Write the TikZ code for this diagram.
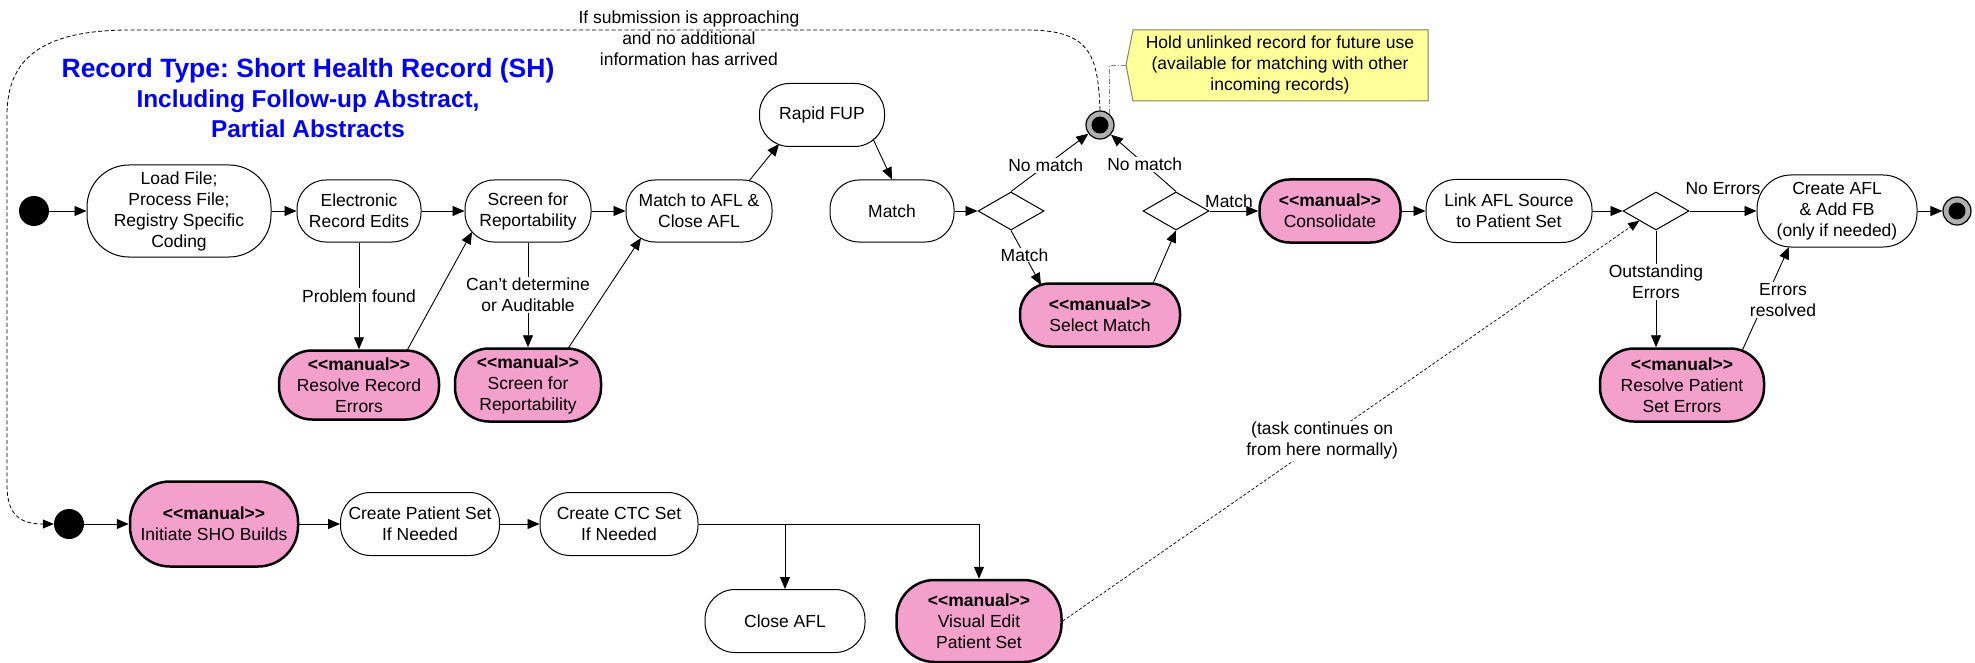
\documentclass[tikz,border=0pt]{standalone}
\usepackage{fontspec}
\newfontfamily\diafont{Liberation Sans}
\usepackage{tikz}
\usetikzlibrary{shapes.geometric,arrows.meta}

\definecolor{manualpink}{RGB}{244,160,204}
\definecolor{noteyellow}{RGB}{255,255,153}
\definecolor{noteborder}{RGB}{130,130,100}
\definecolor{titleblue}{RGB}{0,0,255}
\definecolor{holdgray}{RGB}{176,176,176}
\newcommand{\mantag}{\textbf{<{}<manual>{}>}}
\frenchspacing

\begin{document}
\begin{tikzpicture}[x=1pt,y=-1pt]
 \tikzstyle{every node} = [font=\diafont\fontsize{17.5pt}{21pt}\selectfont];
 \tikzstyle{arrow} = [-{Triangle[length=12pt,width=10pt]},line width=0.9pt];
 \tikzstyle{act} = [rectangle,draw,rounded corners=29pt,line width=1pt,align=center,inner sep=1pt,fill=white];
 \tikzstyle{manual} = [line width=2.5pt,fill=manualpink];
 \tikzstyle{decide} = [diamond,draw,line width=1pt,minimum width=66pt,minimum height=38pt,inner sep=0pt];
 \tikzstyle{initdot} = [circle,fill=black,minimum size=30pt,inner sep=0pt];
 \tikzstyle{enddot} = [circle,draw,line width=1.2pt,fill=holdgray,minimum size=28pt,inner sep=0pt,
   path picture={\fill[black] (path picture bounding box.center) circle (8.5pt);}];
 \tikzstyle{lbl} = [fill=white,inner sep=1pt,align=center];
 \tikzstyle{waitline} = [line width=0.8pt,dash pattern=on 4pt off 2.5pt,-{Triangle[length=11pt,width=9pt]}];
 \tikzstyle{taskline} = [line width=0.7pt,dash pattern=on 3pt off 2pt,-{Triangle[length=11pt,width=9pt]}];
 \tikzstyle{noteline} = [line width=0.8pt,gray,dash pattern=on 5pt off 2pt on 1pt off 2pt];

 \useasboundingbox (0,0) rectangle (1975,663);

 % title
 \node[name=title,text=titleblue,align=center,font=\diafont\bfseries\fontsize{26.5pt}{30pt}\selectfont] at (308,98)
   {Record Type: Short Health Record (SH)\\{\fontsize{24.4pt}{30pt}\selectfont Including Follow-up Abstract,}\\{\fontsize{24.4pt}{30pt}\selectfont Partial Abstracts}};

 % main row
 \node[initdot,name=init] at (34,211) {};
 \node[act,name=load,minimum width=184pt,minimum height=92pt,rounded corners=42pt] at (179,211)
   {Load File;\\Process File;\\Registry Specific\\Coding};
 \node[act,name=elec,minimum width=124pt,minimum height=62pt] at (359,211) {Electronic\\Record Edits};
 \node[act,name=screen,minimum width=126pt,minimum height=62pt] at (528,211) {Screen for\\Reportability};
 \node[act,name=matchafl,minimum width=146pt,minimum height=62pt] at (699,211) {Match to AFL \&\\Close AFL};
 \node[act,name=rapid,minimum width=125pt,minimum height=63pt,rounded corners=30pt] at (822,115) {Rapid FUP};
 \node[act,name=match,minimum width=124pt,minimum height=62pt] at (892,211) {Match};
 \node[decide,name=dec1] at (1011,211) {};
 \node[enddot,name=hold] at (1100,125) {};
 \node[act,manual,name=selmatch,minimum width=160pt,minimum height=63pt,rounded corners=30pt] at (1100,315)
   {\mantag\\Select Match};
 \node[decide,name=dec2] at (1176,211) {};
 \node[act,manual,name=consol,minimum width=141pt,minimum height=63pt,rounded corners=30pt] at (1330,211)
   {\mantag\\Consolidate};
 \node[act,name=link,minimum width=166pt,minimum height=63pt,rounded corners=30pt] at (1509,211) {Link AFL Source\\to Patient Set};
 \node[decide,name=dec3] at (1656,211) {};
 \node[act,name=createafl,minimum width=160pt,minimum height=72pt,rounded corners=34pt] at (1837,211)
   {Create AFL\\\& Add FB\\(only if needed)};
 \node[enddot,name=final] at (1957,211) {};

 % manual fixes
 \node[act,manual,name=resrec,minimum width=160pt,minimum height=69pt,rounded corners=33pt] at (359,385)
   {\mantag\\Resolve Record\\Errors};
 \node[act,manual,name=mscreen,minimum width=146pt,minimum height=73pt,rounded corners=34pt] at (528,385)
   {\mantag\\Screen for\\Reportability};
 \node[act,manual,name=respat,minimum width=164pt,minimum height=73pt,rounded corners=34pt] at (1682,385)
   {\mantag\\Resolve Patient\\Set Errors};

 % SHO row
 \node[initdot,name=init2] at (69,524) {};
 \node[act,manual,name=initsho,minimum width=168pt,minimum height=85pt,rounded corners=40pt] at (214,524)
   {\mantag\\Initiate SHO Builds};
 \node[act,name=cps,minimum width=159pt,minimum height=63pt,rounded corners=30pt] at (420,524) {Create Patient Set\\If Needed};
 \node[act,name=ctc,minimum width=158pt,minimum height=63pt,rounded corners=30pt] at (619,524) {Create CTC Set\\If Needed};
 \node[act,name=closeafl,minimum width=160pt,minimum height=63pt,rounded corners=30pt] at (785,621) {Close AFL};
 \node[act,manual,name=visedit,minimum width=165pt,minimum height=82pt,rounded corners=38pt] at (979,621)
   {\mantag\\Visual Edit\\Patient Set};

 % note
 \draw[fill=noteyellow,draw=noteborder,line width=1pt] (1133,30) -- (1428,30) -- (1428,101) -- (1133,101) -- (1126,65) -- cycle;
 \coordinate (notetip) at (1126,65);
 \node[name=note,align=center] at (1280,65)
   {Hold unlinked record for future use\\(available for matching with other\\incoming records)};
 \draw[noteline] (hold.50) |- (notetip);

 \path (init) edge [arrow] (load);
 \path (load) edge [arrow] (elec);
 \path (elec) edge [arrow] (screen);
 \path (screen) edge [arrow] (matchafl);
 \path ([shift={(50,-30)}]matchafl.center) edge [arrow] ([shift={(-43,29)}]rapid.center);
 \path ([shift={(51,24)}]rapid.center) edge [arrow] (match.north);
 \path (match) edge [arrow] (dec1);
 \path (dec1.north) edge [arrow] node [lbl,pos=0.45] {No match} (hold);
 \path (dec1.south) edge [arrow] node [lbl,pos=0.45] {Match} ([shift={(-59,-30)}]selmatch.center);
 \path ([shift={(53,-31.5)}]selmatch.center) edge [arrow] (dec2.south);
 \path (dec2.north) edge [arrow] node [lbl,pos=0.48] {No match} (hold);
 \path (dec2) edge [arrow] node [above,pos=0.4] {Match} (consol);
 \path (consol) edge [arrow] (link);
 \path (link) edge [arrow] (dec3);
 \path (dec3) edge [arrow] node [above=13pt] {No Errors} (createafl);
 \path (createafl) edge [arrow] (final);

 \path (elec.south) edge [arrow] node [lbl] {Problem found} (resrec.north);
 \path ([shift={(48,-34.5)}]resrec.center) edge [arrow] ([shift={(-56,21)}]screen.center);
 \path (screen.south) edge [arrow] node [lbl] {Can’t determine\\or Auditable} (mscreen.north);
 \path ([shift={(40,-36.5)}]mscreen.center) edge [arrow] ([shift={(-58,27)}]matchafl.center);
 \path (dec3.south) edge [arrow] node [lbl,pos=0.44] {Outstanding\\Errors} (dec3.south |- respat.north);
 \path ([shift={(60,-34)}]respat.center) edge [arrow] node [lbl,pos=0.49,xshift=18pt] {Errors\\resolved} ([shift={(-48,36)}]createafl.center);

 \path (init2) edge [arrow] (initsho);
 \path (initsho) edge [arrow] (cps);
 \path (cps) edge [arrow] (ctc);
 \draw[arrow] (ctc.east) -| (closeafl.north);
 \draw[arrow] (ctc.east) -| (visedit.north);

 \path (visedit.east) edge [taskline] node [lbl,pos=0.45] {(task continues on\\from here normally)} (dec3.south west);

 % wait for more info
 \draw[waitline] (hold.north) .. controls (1098,55) and (1090,31) .. (1030,30)
   -- node [pos=0.379,yshift=-8pt,align=center] {If submission is approaching\\and no additional\\information has arrived} (130,30)
   .. controls (40,30) and (7,60) .. (7,115) -- (7,485) .. controls (7,515) and (20,524) .. (init2.west);
\end{tikzpicture}
\end{document}
